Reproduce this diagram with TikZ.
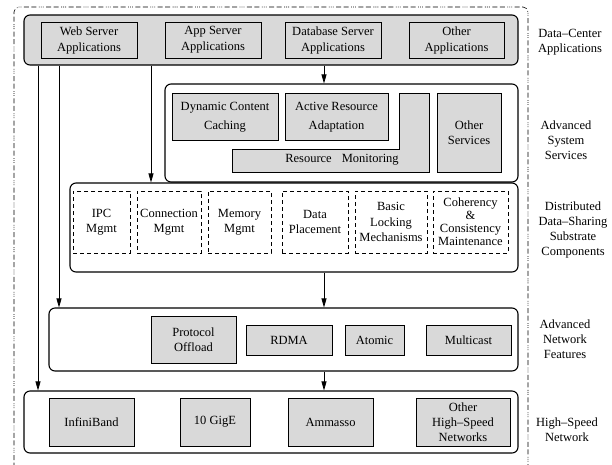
\documentclass[tikz,border=0pt]{standalone}
\usepackage{fontspec}
\setmainfont{Liberation Serif}
\usetikzlibrary{arrows.meta}
\definecolor{boxgray}{gray}{0.85}
\begin{document}
\begin{tikzpicture}[x=1pt,y=-1pt,
  txt/.style={font=\fontsize{12.5}{15}\selectfont, align=center, inner sep=0pt},
  wh/.style 2 args={minimum width=#1pt, minimum height=#2pt},
  layer/.style={draw, line width=1.1pt, rounded corners=6pt, inner sep=0pt},
  cbox/.style={txt, draw, line width=0.9pt, fill=boxgray},
  dbox/.style={txt, draw, line width=0.9pt, dash pattern=on 4pt off 3pt},
  arr/.style={line width=0.8pt, -{Triangle[length=9pt,width=5pt]}},
  framestyle/.style={line width=0.6pt, rounded corners=5pt,
    dash pattern=on 5pt off 2.5pt on 5pt off 2.5pt on 0.8pt off 1.2pt on 0.8pt off 1.2pt on 0.8pt off 2.5pt}
]
\useasboundingbox (0,0) rectangle (612,464);
\clip (0,0) rectangle (612,464);

% outer frame
\draw[framestyle] (14,490) -- (14,7) -- (528,7) -- (528,490);

% layer frames
\node[layer, fill=boxgray, wh={494}{50}] (apps) at (271,40) {};
\node[layer, wh={353}{98}] (svc) at (341.5,133) {};
\node[layer, wh={448}{89}] (dds) at (294,227.5) {};
\node[layer, wh={469}{63}] (anf) at (283.5,339.5) {};
\node[layer, wh={494}{62}] (hsn) at (271,422) {};

% data-center applications
\node[cbox, wh={96}{36}, font=\fontsize{12.5}{16}\selectfont] (web) at (89,40) {Web Server\\Applications};
\node[cbox, wh={96}{36}, font=\fontsize{12.5}{16}\selectfont] (appsrv) at (213,40) {App Server\\Applications};
\node[cbox, wh={96}{36}, font=\fontsize{12.5}{16}\selectfont] (dbsrv) at (333,40) {Database Server\\Applications};
\node[cbox, wh={95}{36}, font=\fontsize{12.5}{16}\selectfont] (otherapp) at (456.5,40) {Other\\Applications};

% advanced system services
\node[cbox, wh={106}{47}, font=\fontsize{12.5}{19.5}\selectfont] (dyn) at (225,117) {Dynamic Content\\Caching};
\node[cbox, wh={103}{47}, font=\fontsize{12.5}{19.5}\selectfont] (active) at (336.5,117) {Active Resource\\Adaptation};
\draw[line width=0.9pt, fill=boxgray] (232,149) -- (399,149) -- (399,93) -- (429,93) -- (429,172) -- (232,172) -- cycle;
\node[txt] (monitor) at (342,160) {Resource\hspace{10pt}Monitoring};
\node[cbox, wh={64}{79}] (othersvc) at (469,132.5) {Other\\Services};

% distributed data-sharing substrate components
\node[dbox, wh={57}{62}] (ipc) at (101.5,222) {IPC\\Mgmt};
\node[dbox, wh={64}{62}] (conn) at (169,222) {Connection\\Mgmt};
\node[dbox, wh={63}{62}] (mem) at (239.5,222) {Memory\\Mgmt};
\node[dbox, wh={66}{62}] (place) at (315,222) {Data\\Placement};
\node[dbox, wh={72}{62}, font=\fontsize{12.5}{15.5}\selectfont] (lock) at (391,222) {Basic\\Locking\\Mechanisms};
\node[dbox, wh={75}{62}, font=\fontsize{12.5}{13}\selectfont] (coh) at (470.5,222) {Coherency\\\&\\Consistency\\Maintenance};

% advanced network features
\node[cbox, wh={85}{47}] (proto) at (193.5,339.5) {Protocol\\Offload};
\node[cbox, wh={86}{30}] (rdma) at (289,340) {RDMA};
\node[cbox, wh={59}{30}] (atomic) at (374.5,340) {Atomic};
\node[cbox, wh={85}{30}] (mcast) at (468.5,340) {Multicast};

% high-speed networks
\node[cbox, wh={85}{48}] (ib) at (91.5,422) {InfiniBand};
\node[cbox, wh={70}{48}] (gige) at (215,422) {10 GigE};
\node[cbox, wh={85}{48}] (ammasso) at (330.5,422) {Ammasso};
\node[cbox, wh={94}{48}] (otherhsn) at (463,422) {Other\\High\textendash Speed\\Networks};

% layer labels
\node[txt, font=\fontsize{12.5}{14.5}\selectfont] (labapps) at (570,42) {Data\textendash Center\\Applications};
\node[txt] (labsvc) at (566,140) {Advanced\\System\\Services};
\node[txt, font=\fontsize{12.5}{15.3}\selectfont] (labdds) at (573,230) {Distributed\\Data\textendash Sharing\\Substrate\\Components};
\node[txt] (labanf) at (565,339) {Advanced\\Network\\Features};
\node[txt] (labhsn) at (567,430) {High\textendash Speed\\Network};

% connectors
\coordinate (xa) at (38,0);
\coordinate (xb) at (59,0);
\coordinate (xc) at (151,0);
\coordinate (xd) at (324,0);
\draw[arr] (apps.south -| xa) -- (hsn.north -| xa);
\draw[arr] (apps.south -| xb) -- (anf.north -| xb);
\draw[arr] (apps.south -| xc) -- (dds.north -| xc);
\draw[arr] (apps.south -| xd) -- (svc.north -| xd);
\draw[arr] (dds.south -| xd) -- (anf.north -| xd);
\draw[arr] (anf.south -| xd) -- (hsn.north -| xd);
\end{tikzpicture}
\end{document}
